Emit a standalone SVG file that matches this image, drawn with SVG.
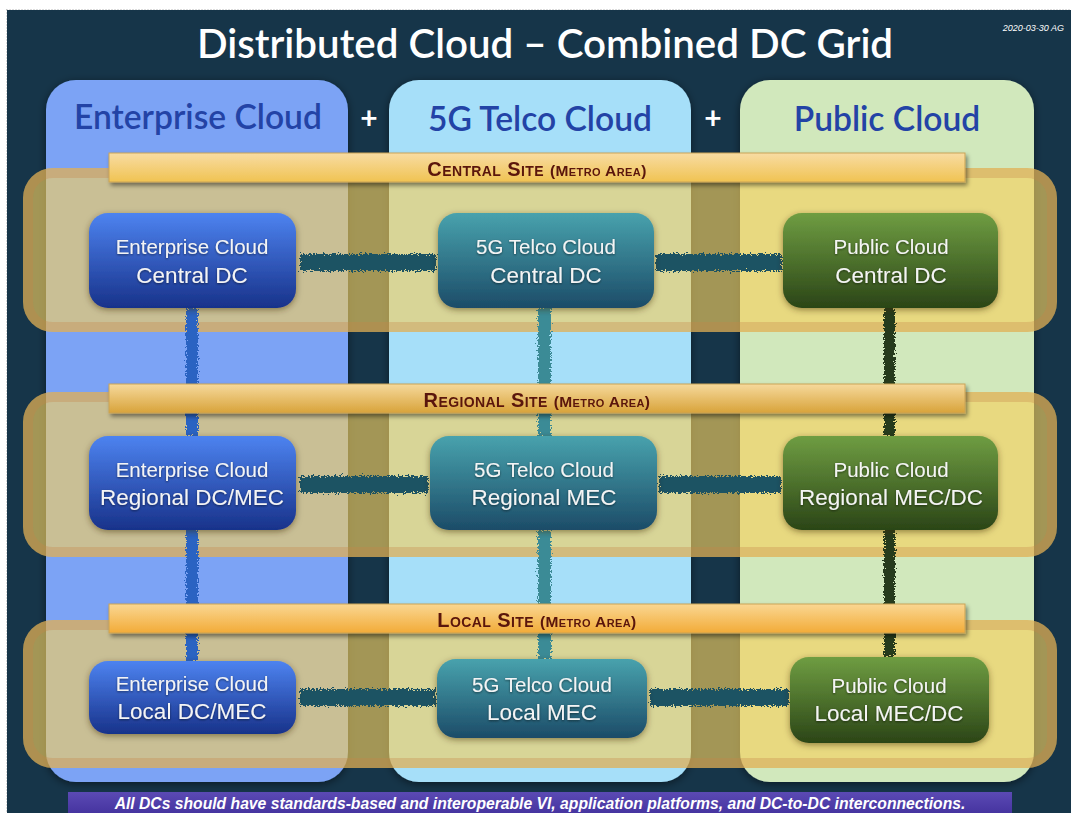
<svg xmlns="http://www.w3.org/2000/svg" width="1071" height="813" viewBox="0 0 1071 813">
<defs>
<style>
.hdr{font-family:Lato,"Open Sans",sans-serif;font-size:33.6px;font-weight:600;fill:#2343a6;text-anchor:middle}
.plus{font-family:Lato,sans-serif;font-size:30px;font-weight:700;fill:#ffffff;text-anchor:middle}
.bandf{fill:rgba(245,207,94,0.63)}
.bands{fill:none;stroke:rgba(200,135,70,0.32);stroke-width:10}
.nt1{font-family:"Liberation Sans",Arial,sans-serif;font-size:20.5px;fill:#f4f4f4;text-anchor:middle}
.nt2{font-family:"Liberation Sans",Arial,sans-serif;font-size:22.5px;fill:#f4f4f4;text-anchor:middle}
.bt{font-family:"Liberation Sans",Arial,sans-serif;font-weight:700;fill:#5a1509;text-anchor:middle;font-variant:small-caps;letter-spacing:0.4px}
.hc{fill:#1b5363}
.ve{fill:#2b63c2}
.vt{fill:#3a8b96}
.vp{fill:#263b1e}
</style>
<filter id="rough" x="-10%" y="-60%" width="120%" height="220%">
<feTurbulence type="fractalNoise" baseFrequency="0.6" numOctaves="3" seed="4" result="n"/>
<feDisplacementMap in="SourceGraphic" in2="n" scale="8" xChannelSelector="R" yChannelSelector="G"/>
</filter>
<filter id="roughv" x="-80%" y="-10%" width="260%" height="120%">
<feTurbulence type="fractalNoise" baseFrequency="0.6" numOctaves="3" seed="7" result="n"/>
<feDisplacementMap in="SourceGraphic" in2="n" scale="7" xChannelSelector="R" yChannelSelector="G"/>
</filter>
<filter id="colsh" x="-10%" y="-10%" width="120%" height="120%">
<feDropShadow dx="0" dy="2" stdDeviation="4" flood-color="#000" flood-opacity="0.5"/>
</filter>
<filter id="nsh" x="-10%" y="-10%" width="120%" height="130%">
<feDropShadow dx="0" dy="2" stdDeviation="3" flood-color="#3a2a00" flood-opacity="0.5"/>
</filter>
<filter id="bsh" x="-5%" y="-30%" width="110%" height="170%">
<feDropShadow dx="2" dy="3" stdDeviation="2" flood-color="#000" flood-opacity="0.45"/>
</filter>
<filter id="tsh"><feDropShadow dx="0" dy="1" stdDeviation="1" flood-color="#000" flood-opacity="0.5"/></filter>
<linearGradient id="gE" x1="0" y1="0" x2="0" y2="1"><stop offset="0" stop-color="#4d83f0"/><stop offset="1" stop-color="#18328a"/></linearGradient>
<linearGradient id="gT" x1="0" y1="0" x2="0" y2="1"><stop offset="0" stop-color="#48a2ad"/><stop offset="1" stop-color="#1c4c68"/></linearGradient>
<linearGradient id="gP" x1="0" y1="0" x2="0" y2="1"><stop offset="0" stop-color="#6f9d42"/><stop offset="1" stop-color="#2b4517"/></linearGradient>
<linearGradient id="gB1" x1="0" y1="0" x2="0" y2="1"><stop offset="0" stop-color="#f8dca3"/><stop offset="1" stop-color="#f0c352"/></linearGradient>
<linearGradient id="gB2" x1="0" y1="0" x2="0" y2="1"><stop offset="0" stop-color="#f6d99c"/><stop offset="1" stop-color="#d8a33a"/></linearGradient>
<linearGradient id="gB3" x1="0" y1="0" x2="0" y2="1"><stop offset="0" stop-color="#fad792"/><stop offset="1" stop-color="#f2ab38"/></linearGradient>
<linearGradient id="gF" x1="0" y1="0" x2="0" y2="1"><stop offset="0" stop-color="#5b4ab4"/><stop offset="1" stop-color="#4634a0"/></linearGradient>
</defs>

<rect x="0" y="0" width="1071" height="813" fill="#ffffff"/>
<rect x="7" y="10" width="1064" height="803" fill="#163549"/>
<rect x="6.5" y="9.5" width="1070" height="810" fill="none" stroke="#bbbbbb" stroke-width="1" stroke-dasharray="1 2"/>

<text x="545" y="58" font-family="Lato,'Open Sans',sans-serif" font-size="40.3" font-weight="600" fill="#ffffff" text-anchor="middle">Distributed Cloud – Combined DC Grid</text>
<text x="1064" y="31" font-family="'Liberation Sans',Arial,sans-serif" font-size="9" font-style="italic" fill="#ffffff" text-anchor="end">2020-03-30 AG</text>

<g id="col-enterprise">
<rect x="46" y="80" width="302" height="702" rx="30" fill="#7ba3f5" filter="url(#colsh)"/>
<text class="hdr" x="198" y="129">Enterprise Cloud</text>
</g>
<g id="col-telco">
<rect x="389" y="80" width="302" height="702" rx="30" fill="#a6dff9" filter="url(#colsh)"/>
<text class="hdr" x="540" y="131">5G Telco Cloud</text>
</g>
<g id="col-public">
<rect x="740" y="80" width="294" height="702" rx="30" fill="#d1e8bc" filter="url(#colsh)"/>
<text class="hdr" x="887" y="131">Public Cloud</text>
</g>
<text class="plus" x="369" y="129">+</text>
<text class="plus" x="713" y="129">+</text>

<g id="band-central"><rect class="bandf" x="23" y="168" width="1034" height="164" rx="30"/><rect class="bands" x="28" y="173" width="1024" height="154" rx="25"/></g>
<g id="band-regional"><rect class="bandf" x="23" y="392" width="1034" height="165" rx="30"/><rect class="bands" x="28" y="397" width="1024" height="155" rx="25"/></g>
<g id="band-local"><rect class="bandf" x="23" y="620" width="1034" height="148" rx="30"/><rect class="bands" x="28" y="625" width="1024" height="138" rx="25"/></g>

<g id="connectors">
<g filter="url(#rough)">
<rect class="hc" x="300" y="254" width="136" height="17"/>
<rect class="hc" x="656" y="254" width="126" height="17"/>
<rect class="hc" x="300" y="476" width="128" height="17"/>
<rect class="hc" x="659" y="476" width="122" height="17"/>
<rect class="hc" x="300" y="689" width="136" height="17"/>
<rect class="hc" x="650" y="689" width="139" height="17"/>
</g>
<g filter="url(#roughv)">
<rect class="ve" x="186" y="308" width="12" height="128"/>
<rect class="ve" x="186" y="530" width="12" height="131"/>
<rect class="vt" x="538" y="308" width="13" height="128"/>
<rect class="vt" x="538" y="530" width="13" height="129"/>
<rect class="vp" x="884" y="308" width="11" height="128"/>
<rect class="vp" x="884" y="530" width="11" height="127"/>
</g>
</g>

<g id="node-ent-central" filter="url(#nsh)">
<rect x="89" y="213" width="207" height="95" rx="19" fill="url(#gE)"/>
<text class="nt1" x="192" y="254" filter="url(#tsh)">Enterprise Cloud</text>
<text class="nt2" x="192" y="283" filter="url(#tsh)">Central DC</text>
</g>
<g id="node-tel-central" filter="url(#nsh)">
<rect x="438" y="213" width="216" height="95" rx="19" fill="url(#gT)"/>
<text class="nt1" x="546" y="254" filter="url(#tsh)">5G Telco Cloud</text>
<text class="nt2" x="546" y="283" filter="url(#tsh)">Central DC</text>
</g>
<g id="node-pub-central" filter="url(#nsh)">
<rect x="783" y="213" width="215" height="95" rx="19" fill="url(#gP)"/>
<text class="nt1" x="891" y="254" filter="url(#tsh)">Public Cloud</text>
<text class="nt2" x="891" y="283" filter="url(#tsh)">Central DC</text>
</g>

<g id="node-ent-regional" filter="url(#nsh)">
<rect x="89" y="436" width="207" height="94" rx="19" fill="url(#gE)"/>
<text class="nt1" x="192" y="477" filter="url(#tsh)">Enterprise Cloud</text>
<text class="nt2" x="192" y="505" filter="url(#tsh)">Regional DC/MEC</text>
</g>
<g id="node-tel-regional" filter="url(#nsh)">
<rect x="430" y="436" width="227" height="94" rx="19" fill="url(#gT)"/>
<text class="nt1" x="544" y="477" filter="url(#tsh)">5G Telco Cloud</text>
<text class="nt2" x="544" y="505" filter="url(#tsh)">Regional MEC</text>
</g>
<g id="node-pub-regional" filter="url(#nsh)">
<rect x="783" y="436" width="215" height="94" rx="19" fill="url(#gP)"/>
<text class="nt1" x="891" y="477" filter="url(#tsh)">Public Cloud</text>
<text class="nt2" x="891" y="505" filter="url(#tsh)">Regional MEC/DC</text>
</g>

<g id="node-ent-local" filter="url(#nsh)">
<rect x="89" y="661" width="207" height="73" rx="19" fill="url(#gE)"/>
<text class="nt1" x="192" y="691" filter="url(#tsh)">Enterprise Cloud</text>
<text class="nt2" x="192" y="719" filter="url(#tsh)">Local DC/MEC</text>
</g>
<g id="node-tel-local" filter="url(#nsh)">
<rect x="437" y="659" width="210" height="79" rx="19" fill="url(#gT)"/>
<text class="nt1" x="542" y="692" filter="url(#tsh)">5G Telco Cloud</text>
<text class="nt2" x="542" y="720" filter="url(#tsh)">Local MEC</text>
</g>
<g id="node-pub-local" filter="url(#nsh)">
<rect x="790" y="657" width="199" height="86" rx="19" fill="url(#gP)"/>
<text class="nt1" x="889" y="693" filter="url(#tsh)">Public Cloud</text>
<text class="nt2" x="889" y="721" filter="url(#tsh)">Local MEC/DC</text>
</g>

<g id="bar-central" filter="url(#bsh)">
<rect x="109" y="153" width="856" height="29" fill="url(#gB1)" stroke="#c9a356" stroke-width="1"/>
<text class="bt" x="537" y="176"><tspan font-size="20">Central Site </tspan><tspan font-size="15.5">(Metro Area)</tspan></text>
</g>
<g id="bar-regional" filter="url(#bsh)">
<rect x="109" y="384" width="856" height="29" fill="url(#gB2)" stroke="#c9a356" stroke-width="1"/>
<text class="bt" x="537" y="407"><tspan font-size="20">Regional Site </tspan><tspan font-size="15.5">(Metro Area)</tspan></text>
</g>
<g id="bar-local" filter="url(#bsh)">
<rect x="109" y="604" width="856" height="29" fill="url(#gB3)" stroke="#c9a356" stroke-width="1"/>
<text class="bt" x="537" y="627"><tspan font-size="20">Local Site </tspan><tspan font-size="15.5">(Metro Area)</tspan></text>
</g>

<g id="footer">
<rect x="68" y="792" width="944" height="21" fill="url(#gF)"/>
<text x="540" y="808.5" font-family="'Liberation Sans',Arial,sans-serif" font-size="15.7" font-weight="700" font-style="italic" fill="#ffffff" text-anchor="middle">All DCs should have standards-based and interoperable VI, application platforms, and DC-to-DC interconnections.</text>
</g>
</svg>
